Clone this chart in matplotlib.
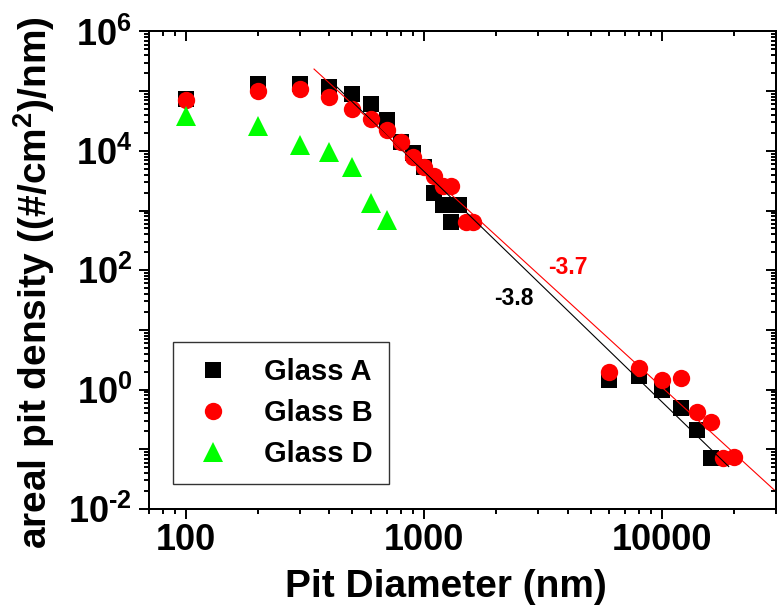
import numpy as np
import matplotlib
matplotlib.use("Agg")
import matplotlib.pyplot as plt
from matplotlib.ticker import LogLocator, FuncFormatter, NullFormatter

plt.rcParams["font.family"] = "Liberation Sans"
plt.rcParams["font.weight"] = "bold"
plt.rcParams["axes.labelweight"] = "bold"
plt.rcParams["mathtext.fontset"] = "custom"
plt.rcParams["mathtext.rm"] = "Liberation Sans:bold"
plt.rcParams["mathtext.bf"] = "Liberation Sans:bold"
plt.rcParams["mathtext.it"] = "Liberation Sans:bold"

# ---- data ----
a_x = [100, 200, 300, 400, 500, 600, 700, 800, 900, 1000, 1100, 1200, 1300, 1400,
       6000, 8000, 10000, 12000, 14000, 16000]
a_y = [7.3e4, 1.31e5, 1.31e5, 1.19e5, 9.0e4, 6.1e4, 3.3e4, 1.43e4, 9.1e3, 5.4e3, 1.95e3, 1.24e3, 650, 1.24e3,
       1.45, 1.70, 0.99, 0.50, 0.21, 0.071]
b_x = [100, 200, 300, 400, 500, 600, 700, 800, 900, 1000, 1100, 1200, 1300, 1500, 1600,
       6000, 8000, 10000, 12000, 14000, 16000, 18000, 20000]
b_y = [7.1e4, 1.02e5, 1.09e5, 8.1e4, 5.0e4, 3.38e4, 2.24e4, 1.39e4, 7.8e3, 5.4e3, 3.8e3, 2.58e3, 2.58e3, 637, 637,
       2.0, 2.28, 1.45, 1.59, 0.42, 0.284, 0.071, 0.074]
d_x = [100, 200, 300, 400, 500, 600, 700]
d_y = [3.85e4, 2.6e4, 1.26e4, 9.7e3, 5.4e3, 1.36e3, 700]

# power-law fits: log10(y) = log_a + slope*log10(x)
fit_a = {"slope": -3.866, "log_a": 15.252, "x": (420, 19000)}
fit_b = {"slope": -3.65, "log_a": 14.633, "x": (345, 30000)}


def ylab(v, p):
    e = int(round(np.log10(v)))
    if e % 2:
        return ""
    if e < 0:
        return r"$10^{\text{-}%d}$" % (-e)
    return r"$10^{%d}$" % e


fig = plt.figure(figsize=(7.77, 6.13), dpi=100)
ax = fig.add_axes([0.1918, 0.1697, 0.8069, 0.779])

ax.plot(a_x, a_y, "s", color="black", ms=11.5, mew=0, label="Glass A", zorder=3)
ax.plot(b_x, b_y, "o", color="#ff0000", ms=12.5, mew=0, label="Glass B", zorder=4)
ax.plot(d_x, d_y, "^", color="#00ff00", ms=14, mew=0, label="Glass D", zorder=5)

for f, c in ((fit_a, "black"), (fit_b, "#ff0000")):
    xs = np.array(f["x"], dtype=float)
    ax.plot(xs, 10 ** (f["log_a"] + f["slope"] * np.log10(xs)), "-", color=c, lw=0.8, zorder=6)

ax.text(2390, 34, "-3.8", color="black", fontsize=16.5, ha="center", va="center")
ax.text(4030, 113, "-3.7", color="#ff0000", fontsize=16.5, ha="center", va="center")

ax.set_xscale("log")
ax.set_yscale("log")
ax.set_xlim(70, 30000)
ax.set_ylim(1e-2, 1e6)

ax.xaxis.set_major_locator(LogLocator(base=10, numticks=10))
ax.xaxis.set_minor_locator(LogLocator(base=10, subs=np.arange(2, 10), numticks=20))
ax.xaxis.set_major_formatter(FuncFormatter(lambda v, p: "%d" % round(v)))
ax.xaxis.set_minor_formatter(NullFormatter())
ax.yaxis.set_major_locator(LogLocator(base=10, numticks=20))
ax.yaxis.set_minor_locator(LogLocator(base=10, subs=np.arange(2, 10), numticks=40))
ax.yaxis.set_major_formatter(FuncFormatter(ylab))
ax.yaxis.set_minor_formatter(NullFormatter())

for s in ax.spines.values():
    s.set_linewidth(1.4)
ax.tick_params(which="both", direction="out", width=1.4, labelsize=26)
ax.tick_params(which="major", length=7.2)
ax.tick_params(which="minor", length=3.6)
ax.tick_params(axis="x", pad=3)
ax.tick_params(axis="y", pad=5)

# mirrored ticks on top / right point into the plot
axt = ax.twiny()
axt.set_xscale("log"); axt.set_xlim(ax.get_xlim())
axt.xaxis.set_major_locator(LogLocator(base=10, numticks=10))
axt.xaxis.set_minor_locator(LogLocator(base=10, subs=np.arange(2, 10), numticks=20))
axt.tick_params(which="both", direction="in", width=1.4, labeltop=False)
axt.tick_params(which="major", length=7.2)
axt.tick_params(which="minor", length=3.6)
axr = ax.twinx()
axr.set_yscale("log"); axr.set_ylim(ax.get_ylim())
axr.yaxis.set_major_locator(LogLocator(base=10, numticks=20))
axr.yaxis.set_minor_locator(LogLocator(base=10, subs=np.arange(2, 10), numticks=40))
axr.tick_params(which="both", direction="in", width=1.4, labelright=False)
axr.tick_params(which="major", length=7.2)
axr.tick_params(which="minor", length=3.6)
for a in (axt, axr):
    for s in a.spines.values():
        s.set_linewidth(1.4)

ax.set_xlabel("Pit Diameter (nm)", fontsize=28, fontweight="bold")
ax.set_ylabel(r"areal pit density ((#/cm$^{2}$)/nm)", fontsize=28, fontweight="bold")
ax.xaxis.set_label_coords(0.474, -0.126)
ax.yaxis.set_label_coords(-0.147, 0.475)

leg = ax.legend(loc="lower left", bbox_to_anchor=(0.0388, 0.052), borderaxespad=0,
                fontsize=21, frameon=True, fancybox=False, borderpad=0.55,
                handlelength=1.6, handletextpad=0.95, labelspacing=0.45)
leg.get_frame().set_edgecolor("black")
leg.get_frame().set_linewidth(1.0)
leg.set_zorder(10)

fig.savefig("out.png", dpi=100)
